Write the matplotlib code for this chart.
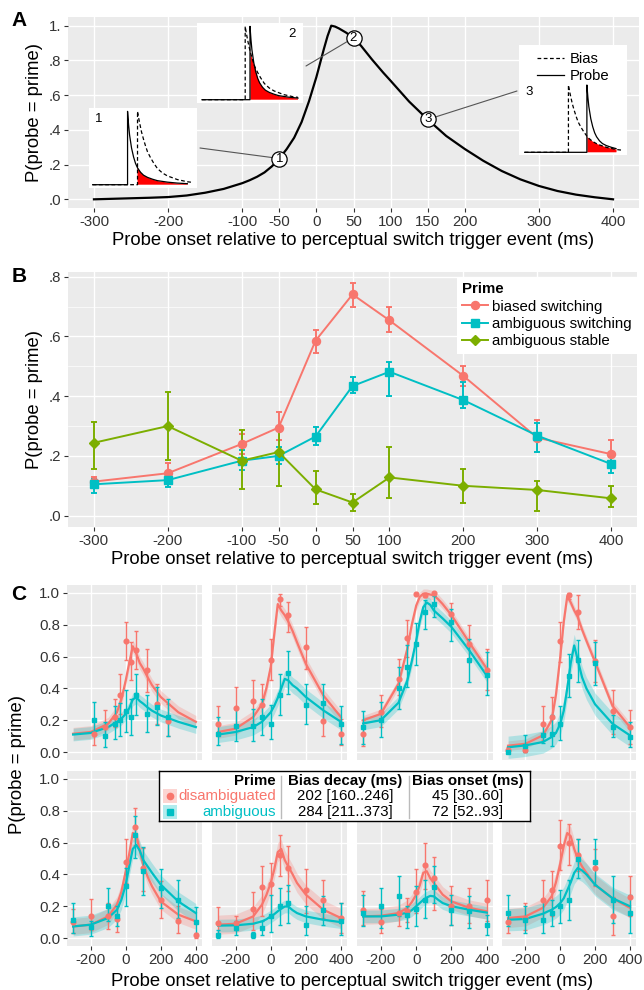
import numpy as np
import matplotlib
matplotlib.use("Agg")
import matplotlib.pyplot as plt
from matplotlib.patches import Polygon, Rectangle
from matplotlib.lines import Line2D

plt.rcParams['font.family'] = ['Liberation Sans', 'DejaVu Sans']
plt.rcParams['axes.unicode_minus'] = False

RED = "#F8766D"
CYAN = "#00BFC4"
GREEN = "#7CAE00"
TXT = "#333333"

# ---------------- panel A: model curve ----------------
a_t = [-300, -275, -250, -225, -200, -175, -150, -125, -100, -90, -80, -70, -60, -50,
       -40, -30, -20, -10, 0, 5, 10, 15, 20, 25, 30, 40, 50, 60, 75, 90, 100, 125, 150,
       175, 200, 225, 250, 275, 300, 325, 350, 375, 400]
a_p = [0.0, 0.003, 0.006, 0.009, 0.013, 0.022, 0.038, 0.06, 0.093, 0.11, 0.13, 0.155,
       0.19, 0.235, 0.29, 0.355, 0.445, 0.565, 0.705, 0.785, 0.865, 0.94, 1.0, 0.995,
       0.985, 0.96, 0.93, 0.885, 0.805, 0.73, 0.683, 0.563, 0.46, 0.365, 0.29, 0.222,
       0.163, 0.115, 0.077, 0.048, 0.027, 0.012, 0.0]
a_xticks = [-300, -200, -100, -50, 0, 50, 100, 150, 200, 300, 400]
a_yticks = [0, 0.2, 0.4, 0.6, 0.8, 1.0]
a_ylabels = [".0", ".2", ".4", ".6", ".8", "1."]
a_marks = [-50, 50, 150]          # numbered example probe onsets
a_mark_names = ["1", "2", "3"]

# schematic insets: decay of probe and bias after onset
decay_t = [0, 1, 2, 4, 6, 8, 10, 13, 16, 20, 25, 30, 40, 50, 55, 60, 70]
probe_decay = [1.0, 0.82, 0.68, 0.5, 0.38, 0.29, 0.23, 0.17, 0.13, 0.1, 0.075, 0.055,
               0.035, 0.022, 0.018, 0.014, 0.009]
bias_decay = [1.0, 0.92, 0.85, 0.72, 0.62, 0.53, 0.45, 0.37, 0.3, 0.22, 0.16, 0.12,
              0.07, 0.04, 0.032, 0.025, 0.015]
probe_onset = [35, 50, 64]
bias_onset = [45, 45, 45]

# ---------------- panel B ----------------
b_t = [-300, -200, -100, -50, 0, 50, 100, 200, 300, 400]
b_names = ["biased switching", "ambiguous switching", "ambiguous stable"]
b_mean = [
    [0.114, 0.142, 0.24, 0.295, 0.586, 0.741, 0.654, 0.468, 0.261, 0.206],
    [0.105, 0.119, 0.184, 0.20, 0.265, 0.434, 0.482, 0.387, 0.268, 0.173],
    [0.244, 0.30, 0.184, 0.213, 0.088, 0.044, 0.128, 0.10, 0.086, 0.058],
]
b_lo = [
    [0.098, 0.105, 0.205, 0.253, 0.546, 0.70, 0.614, 0.434, 0.214, 0.175],
    [0.077, 0.097, 0.153, 0.172, 0.237, 0.41, 0.40, 0.359, 0.213, 0.144],
    [0.156, 0.186, 0.088, 0.10, 0.038, 0.017, 0.058, 0.044, 0.016, 0.03],
]
b_hi = [
    [0.13, 0.175, 0.275, 0.348, 0.622, 0.778, 0.70, 0.501, 0.32, 0.253],
    [0.122, 0.13, 0.22, 0.231, 0.298, 0.465, 0.515, 0.449, 0.311, 0.198],
    [0.315, 0.415, 0.287, 0.29, 0.15, 0.071, 0.229, 0.156, 0.116, 0.10],
]

# ---------------- panel C: eight observers ----------------
c_times = [-300, -200, -100, -50, 0, 50, 100, 200, 300, 400]
c_times_first = [-180, -120, -60, -30, 0, 30, 60, 120, 180, 240]
dis_mean = [
    [0.115, 0.157, 0.22, 0.356, 0.70, 0.565, 0.64, 0.518, 0.30, 0.195],
    [0.174, 0.277, 0.319, 0.298, 0.577, 0.96, 0.86, 0.66, 0.195, 0.115],
    [0.115, 0.25, 0.457, 0.72, 0.996, 0.99, 1.0, 0.87, 0.68, 0.518],
    [0.01, 0.01, 0.174, 0.22, 0.696, 0.985, 0.88, 0.572, 0.256, 0.157],
    [0.10, 0.14, 0.14, 0.12, 0.48, 0.70, 0.44, 0.24, 0.105, 0.02],
    [0.094, 0.094, 0.18, 0.32, 0.34, 0.524, 0.44, 0.304, 0.24, 0.126],
    [0.178, 0.10, 0.16, 0.17, 0.29, 0.46, 0.38, 0.20, 0.20, 0.24],
    [0.10, 0.126, 0.24, 0.30, 0.58, 0.60, 0.52, 0.44, 0.14, 0.26],
]
dis_lo = [
    [0.042, 0.094, 0.157, 0.24, 0.577, 0.45, 0.52, 0.377, 0.178, 0.10],
    [0.10, 0.157, 0.157, 0.21, 0.45, 0.92, 0.755, 0.524, 0.10, 0.042],
    [0.04, 0.157, 0.356, 0.60, 0.985, 0.975, 0.99, 0.81, 0.566, 0.39],
    [0.0, 0.0, 0.073, 0.115, 0.566, 0.965, 0.775, 0.44, 0.115, 0.052],
    [0.03, 0.05, 0.057, 0.04, 0.346, 0.587, 0.293, 0.126, 0.03, 0.0],
    [0.02, 0.05, 0.05, 0.136, 0.14, 0.388, 0.293, 0.157, 0.126, 0.03],
    [0.084, 0.03, 0.073, 0.10, 0.157, 0.31, 0.178, 0.084, 0.094, 0.105],
    [0.03, 0.052, 0.115, 0.14, 0.43, 0.46, 0.42, 0.33, 0.02, 0.136],
]
dis_hi = [
    [0.21, 0.266, 0.335, 0.49, 0.82, 0.69, 0.76, 0.65, 0.425, 0.30],
    [0.287, 0.41, 0.455, 0.43, 0.71, 0.996, 0.943, 0.786, 0.30, 0.21],
    [0.20, 0.356, 0.587, 0.83, 1.0, 1.0, 1.0, 0.94, 0.80, 0.65],
    [0.03, 0.03, 0.287, 0.346, 0.818, 1.0, 0.985, 0.706, 0.39, 0.262],
    [0.18, 0.245, 0.22, 0.20, 0.62, 0.818, 0.566, 0.356, 0.20, 0.03],
    [0.195, 0.136, 0.29, 0.45, 0.47, 0.65, 0.576, 0.434, 0.367, 0.22],
    [0.293, 0.18, 0.26, 0.25, 0.434, 0.60, 0.51, 0.325, 0.314, 0.367],
    [0.157, 0.22, 0.367, 0.42, 0.744, 0.72, 0.62, 0.56, 0.26, 0.39],
]
amb_mean = [
    [0.20, 0.10, 0.178, 0.20, 0.258, 0.22, 0.356, 0.24, 0.283, 0.22],
    [0.115, 0.163, 0.163, 0.22, 0.178, 0.36, 0.497, 0.298, 0.308, 0.174],
    [0.157, 0.20, 0.40, 0.535, 0.68, 0.88, 0.93, 0.82, 0.577, 0.486],
    [0.0, 0.04, 0.105, 0.115, 0.178, 0.48, 0.577, 0.56, 0.157, 0.094],
    [0.115, 0.067, 0.20, 0.14, 0.325, 0.65, 0.42, 0.314, 0.237, 0.10],
    [0.017, 0.063, 0.017, 0.063, 0.136, 0.20, 0.22, 0.084, 0.178, 0.105],
    [0.157, 0.20, 0.262, 0.143, 0.18, 0.24, 0.32, 0.178, 0.168, 0.08],
    [0.157, 0.115, 0.115, 0.157, 0.20, 0.24, 0.50, 0.48, 0.24, 0.157],
]
amb_lo = [
    [0.115, 0.03, 0.084, 0.10, 0.126, 0.11, 0.23, 0.126, 0.168, 0.10],
    [0.042, 0.067, 0.067, 0.11, 0.084, 0.23, 0.367, 0.178, 0.19, 0.052],
    [0.052, 0.094, 0.27, 0.41, 0.545, 0.775, 0.85, 0.70, 0.44, 0.356],
    [0.0, 0.0, 0.06, 0.04, 0.073, 0.346, 0.44, 0.42, 0.094, 0.03],
    [0.03, 0.01, 0.105, 0.073, 0.20, 0.503, 0.273, 0.19, 0.126, 0.01],
    [0.0, 0.02, 0.0, 0.02, 0.04, 0.084, 0.094, 0.02, 0.084, 0.02],
    [0.073, 0.063, 0.136, 0.063, 0.073, 0.126, 0.22, 0.084, 0.063, 0.017],
    [0.073, 0.03, 0.03, 0.073, 0.094, 0.115, 0.38, 0.335, 0.094, 0.03],
]
amb_hi = [
    [0.315, 0.19, 0.287, 0.31, 0.39, 0.335, 0.49, 0.356, 0.41, 0.335],
    [0.22, 0.27, 0.27, 0.335, 0.293, 0.49, 0.635, 0.43, 0.43, 0.287],
    [0.26, 0.314, 0.535, 0.67, 0.81, 0.954, 0.98, 0.90, 0.71, 0.63],
    [0.01, 0.105, 0.178, 0.23, 0.287, 0.618, 0.706, 0.69, 0.23, 0.19],
    [0.22, 0.105, 0.314, 0.20, 0.44, 0.765, 0.57, 0.434, 0.367, 0.195],
    [0.052, 0.105, 0.04, 0.105, 0.27, 0.314, 0.335, 0.20, 0.262, 0.22],
    [0.27, 0.314, 0.388, 0.20, 0.325, 0.367, 0.45, 0.273, 0.265, 0.147],
    [0.273, 0.20, 0.24, 0.24, 0.304, 0.367, 0.62, 0.62, 0.39, 0.273],
]
fit_t = [-300, -200, -100, -50, -25, 0, 20, 40, 60, 80, 100, 125, 150, 200, 300, 400]
dis_fit = [
    [0.115, 0.126, 0.178, 0.25, 0.33, 0.45, 0.56, 0.665, 0.62, 0.56, 0.524, 0.47, 0.42, 0.346, 0.25, 0.19],
    [0.126, 0.147, 0.22, 0.30, 0.40, 0.535, 0.74, 0.93, 0.89, 0.86, 0.82, 0.76, 0.69, 0.555, 0.356, 0.22],
    [0.20, 0.24, 0.43, 0.65, 0.80, 0.92, 0.975, 0.995, 0.995, 0.99, 0.985, 0.96, 0.93, 0.86, 0.69, 0.524],
    [0.04, 0.052, 0.105, 0.20, 0.36, 0.60, 0.82, 0.98, 0.94, 0.89, 0.85, 0.77, 0.70, 0.566, 0.29, 0.157],
    [0.073, 0.084, 0.136, 0.21, 0.29, 0.42, 0.53, 0.66, 0.65, 0.55, 0.46, 0.385, 0.325, 0.23, 0.147, 0.105],
    [0.084, 0.09, 0.136, 0.21, 0.27, 0.346, 0.43, 0.54, 0.56, 0.49, 0.45, 0.40, 0.346, 0.273, 0.178, 0.126],
    [0.136, 0.14, 0.157, 0.19, 0.225, 0.273, 0.33, 0.41, 0.42, 0.375, 0.346, 0.31, 0.273, 0.23, 0.19, 0.168],
    [0.126, 0.136, 0.19, 0.262, 0.35, 0.47, 0.58, 0.66, 0.64, 0.56, 0.50, 0.45, 0.41, 0.335, 0.25, 0.19],
]
amb_fit = [
    [0.11, 0.12, 0.157, 0.19, 0.21, 0.24, 0.275, 0.33, 0.345, 0.32, 0.304, 0.28, 0.26, 0.23, 0.19, 0.157],
    [0.11, 0.126, 0.157, 0.19, 0.22, 0.25, 0.29, 0.34, 0.40, 0.46, 0.45, 0.42, 0.40, 0.346, 0.262, 0.19],
    [0.18, 0.20, 0.31, 0.45, 0.57, 0.70, 0.82, 0.91, 0.94, 0.925, 0.89, 0.865, 0.84, 0.786, 0.64, 0.48],
    [0.03, 0.042, 0.063, 0.094, 0.12, 0.178, 0.26, 0.40, 0.56, 0.67, 0.58, 0.47, 0.40, 0.30, 0.178, 0.105],
    [0.073, 0.084, 0.126, 0.178, 0.24, 0.335, 0.45, 0.56, 0.585, 0.55, 0.49, 0.45, 0.41, 0.335, 0.23, 0.157],
    [0.078, 0.08, 0.09, 0.105, 0.118, 0.136, 0.15, 0.168, 0.185, 0.198, 0.198, 0.175, 0.157, 0.136, 0.115, 0.10],
    [0.136, 0.136, 0.147, 0.16, 0.175, 0.20, 0.22, 0.24, 0.255, 0.265, 0.262, 0.24, 0.22, 0.20, 0.178, 0.16],
    [0.115, 0.12, 0.153, 0.178, 0.195, 0.22, 0.25, 0.30, 0.35, 0.41, 0.44, 0.425, 0.40, 0.335, 0.25, 0.20],
]
dis_band = [0.04, 0.04, 0.03, 0.03, 0.05, 0.06, 0.05, 0.06]
amb_band = [0.04, 0.05, 0.04, 0.07, 0.06, 0.04, 0.04, 0.07]

tab_prime = ["disambiguated", "ambiguous"]
tab_decay = ["202 [160..246]", "284 [211..373]"]
tab_onset = ["45 [30..60]", "72 [52..93]"]

XLAB = "Probe onset relative to perceptual switch trigger event (ms)"
YLAB = "P(probe = prime)"

W, H = 644, 990
fig = plt.figure(figsize=(W / 100, H / 100), dpi=100)


def box(l, t, r, b):
    return [l / W, 1 - b / H, (r - l) / W, (b - t) / H]


def gg(ax, xt, yt, yminor=None):
    ax.set_facecolor("#EBEBEB")
    for s in ax.spines.values():
        s.set_visible(False)
    ax.set_xticks(xt)
    ax.set_yticks(yt)
    if yminor is not None:
        ax.set_yticks(yminor, minor=True)
        ax.grid(True, which="minor", axis="y", color="white", lw=0.5)
    ax.grid(True, which="major", color="white", lw=1.0)
    ax.set_axisbelow(True)
    ax.tick_params(which="major", length=3, width=0.8, color=TXT, labelcolor=TXT,
                   labelsize=10.8, pad=2)
    ax.tick_params(which="minor", length=0)


# ================= A =================
axA = fig.add_axes(box(68, 17, 639, 208))
gg(axA, a_xticks, a_yticks)
axA.set_yticklabels(a_ylabels)
axA.set_xlim(-335, 435)
axA.set_ylim(-0.05, 1.05)
axA.plot(a_t, a_p, color="black", lw=1.6, zorder=3)
axA.set_xlabel(XLAB, fontsize=13.3, labelpad=2)
axA.set_ylabel(YLAB, fontsize=13.3, labelpad=4)

leader_ends = [(200, H - 148), (306, H - 66), (517, H - 91)]   # figure pixels
for name, tx, end in zip(a_mark_names, a_marks, leader_ends):
    ty = a_p[a_t.index(tx)]
    axA.annotate("", xy=(tx, ty), xytext=end, textcoords="figure pixels",
                 arrowprops=dict(arrowstyle="-", color="#555555", lw=0.8,
                                 shrinkA=0, shrinkB=0), zorder=4)
    axA.plot(tx, ty, "o", ms=11, mfc="white", mec="black", mew=0.9, zorder=5)
    axA.text(tx, ty, name, ha="center", va="center", fontsize=9.5, zorder=6)

inset_boxes = [(89, 108, 197, 188), (197, 23, 303, 103), (519, 45, 627, 155)]
inset_xlim = [(-3.7, 104.7), (-5.2, 105.2), (-5.9, 105.3)]
inset_ylim = [(-0.045, 1.046), (-0.045, 1.046), (-0.04, 1.594)]
label_pos = [(2, 0.9, "left"), (98, 0.9, "right"), (1, 0.9, "left")]
for k in range(3):
    ax = fig.add_axes(box(*inset_boxes[k]))
    ax.set_facecolor("white")
    for s in ax.spines.values():
        s.set_visible(False)
    ax.set_xticks([])
    ax.set_yticks([])
    ax.set_xlim(*inset_xlim[k])
    ax.set_ylim(*inset_ylim[k])
    tp = [0, probe_onset[k]] + [probe_onset[k] + d for d in decay_t if probe_onset[k] + d <= 100]
    yp = [0, 0] + probe_decay[:len(tp) - 2]
    tb = [0, bias_onset[k]] + [bias_onset[k] + d for d in decay_t if bias_onset[k] + d <= 100]
    yb = [0, 0] + bias_decay[:len(tb) - 2]
    clip = Polygon(np.column_stack([tb + [tb[-1]], yb + [0]]), closed=True,
                   facecolor="none", edgecolor="none", transform=ax.transData)
    ax.add_patch(clip)
    fill = ax.fill_between(tp, yp, 0, color="#FF0000", lw=0)
    fill.set_clip_path(clip)
    ax.plot(tp, yp, color="black", lw=0.9, label="Probe")
    ax.plot(tb, yb, color="black", lw=0.9, ls=(0, (3, 2)), label="Bias")
    lx, ly, ha = label_pos[k]
    ax.text(lx, ly, a_mark_names[k], ha=ha, va="center", fontsize=9.5)
    if k == 2:
        hs, ls = ax.get_legend_handles_labels()
        ax.legend(hs[::-1], ls[::-1], loc="upper center", frameon=False, fontsize=10.7,
                  handlelength=1.8, handletextpad=0.4, labelspacing=0.2, borderaxespad=0.1)

# ================= B =================
axB = fig.add_axes(box(68, 272, 637, 527))
gg(axB, b_t, [0, 0.2, 0.4, 0.6, 0.8], yminor=[0.1, 0.3, 0.5, 0.7])
axB.set_yticklabels([".0", ".2", ".4", ".6", ".8"])
axB.set_xlim(-335, 435)
axB.set_ylim(-0.038, 0.816)
b_cols = [RED, CYAN, GREEN]
b_mk = ["o", "s", "D"]
b_ms = [5.8, 5.6, 5.2]
handles = []
for i in range(3):
    m = np.array(b_mean[i])
    err = [m - np.array(b_lo[i]), np.array(b_hi[i]) - m]
    axB.errorbar(b_t, m, yerr=err, fmt="-" + b_mk[i], color=b_cols[i], ms=b_ms[i],
                 lw=1.4, elinewidth=1.4, capsize=2.5, capthick=1.4)
    handles.append(Line2D([], [], color=b_cols[i], marker=b_mk[i], ms=b_ms[i], lw=1.4))
leg = axB.legend(handles, b_names, title="Prime", loc="upper right",
                 bbox_to_anchor=(1.0, 0.98), fontsize=10.8, title_fontsize=10.8,
                 frameon=True, fancybox=False, edgecolor="none", facecolor="white",
                 framealpha=1, borderaxespad=0, handlelength=1.7, labelspacing=0.22,
                 borderpad=0.35, handletextpad=0.3)
leg.get_title().set_fontweight("bold")
leg._legend_box.align = "left"
axB.set_xlabel(XLAB, fontsize=13.3, labelpad=2)
axB.set_ylabel(YLAB, fontsize=13.3, labelpad=4)

# ================= C =================
cols = [(67, 202), (212, 347), (357, 493), (502, 636)]
rows = [(585, 760), (771, 946)]
for i in range(8):
    r, c = divmod(i, 4)
    ax = fig.add_axes(box(cols[c][0], rows[r][0], cols[c][1], rows[r][1]))
    gg(ax, [-200, 0, 200, 400], [0, 0.2, 0.4, 0.6, 0.8, 1.0])
    ax.set_yticklabels(["0.0", "0.2", "0.4", "0.6", "0.8", "1.0"])
    ax.set_xlim(-335, 435)
    ax.set_ylim(-0.05, 1.05)
    if r == 0:
        ax.tick_params(axis="x", bottom=False, labelbottom=False)
    if c > 0:
        ax.tick_params(axis="y", left=False, labelleft=False)
    tt = c_times_first if i == 0 else c_times
    series = [(dis_mean, dis_lo, dis_hi, dis_fit, dis_band, RED, "o"),
              (amb_mean, amb_lo, amb_hi, amb_fit, amb_band, CYAN, "s")]
    for mean, lo, hi, fit, band, col, mk in series:
        f = np.array(fit[i])
        ax.fill_between(fit_t, f - band[i], f + band[i], color=col, alpha=0.25, lw=0)
        ax.plot(fit_t, f, color=col, lw=1.6)
        m = np.array(mean[i])
        err = [m - np.array(lo[i]), np.array(hi[i]) - m]
        ax.errorbar(tt, m, yerr=err, fmt=mk, color=col, ms=3.4, elinewidth=1.0,
                    capsize=1.6, capthick=1.0)

fig.text(18 / W, 1 - 765 / H, YLAB, rotation=90, ha="center", va="center", fontsize=13.3)
fig.text(352 / W, 1 - 981 / H, XLAB, ha="center", va="center", fontsize=13.3)

# table legend of panel C
axT = fig.add_axes(box(159, 771, 530, 821))
axT.set_xlim(159, 530)
axT.set_ylim(821, 771)
axT.set_xticks([])
axT.set_yticks([])
axT.set_facecolor("white")
for s in axT.spines.values():
    s.set_linewidth(1.0)
    s.set_color("black")
row_y = [781, 796, 812]
axT.text(276, row_y[0], "Prime", ha="right", va="center", fontsize=10.8, fontweight="bold")
axT.text(345, row_y[0], "Bias decay (ms)", ha="center", va="center", fontsize=10.8,
         fontweight="bold")
axT.text(468, row_y[0], "Bias onset (ms)", ha="center", va="center", fontsize=10.8,
         fontweight="bold")
for j, (col, mk) in enumerate([(RED, "o"), (CYAN, "s")]):
    y = row_y[j + 1]
    axT.add_patch(Rectangle((163, y - 7), 14, 14, color=col, alpha=0.3, lw=0))
    axT.plot(170, y, mk, color=col, ms=4.5)
    axT.text(276, y, tab_prime[j], ha="right", va="center", fontsize=10.8, color=col)
    axT.text(345, y, tab_decay[j], ha="center", va="center", fontsize=10.8)
    axT.text(468, y, tab_onset[j], ha="center", va="center", fontsize=10.8)
axT.plot([281, 281], [776, 818], color="#BBBBBB", lw=1)
axT.plot([409, 409], [776, 818], color="#BBBBBB", lw=1)

for letter, y in [("A", 20), ("B", 276), ("C", 594)]:
    fig.text(19 / W, 1 - y / H, letter, fontsize=15, fontweight="bold", ha="center", va="center")

fig.savefig("out.png", dpi=100)
